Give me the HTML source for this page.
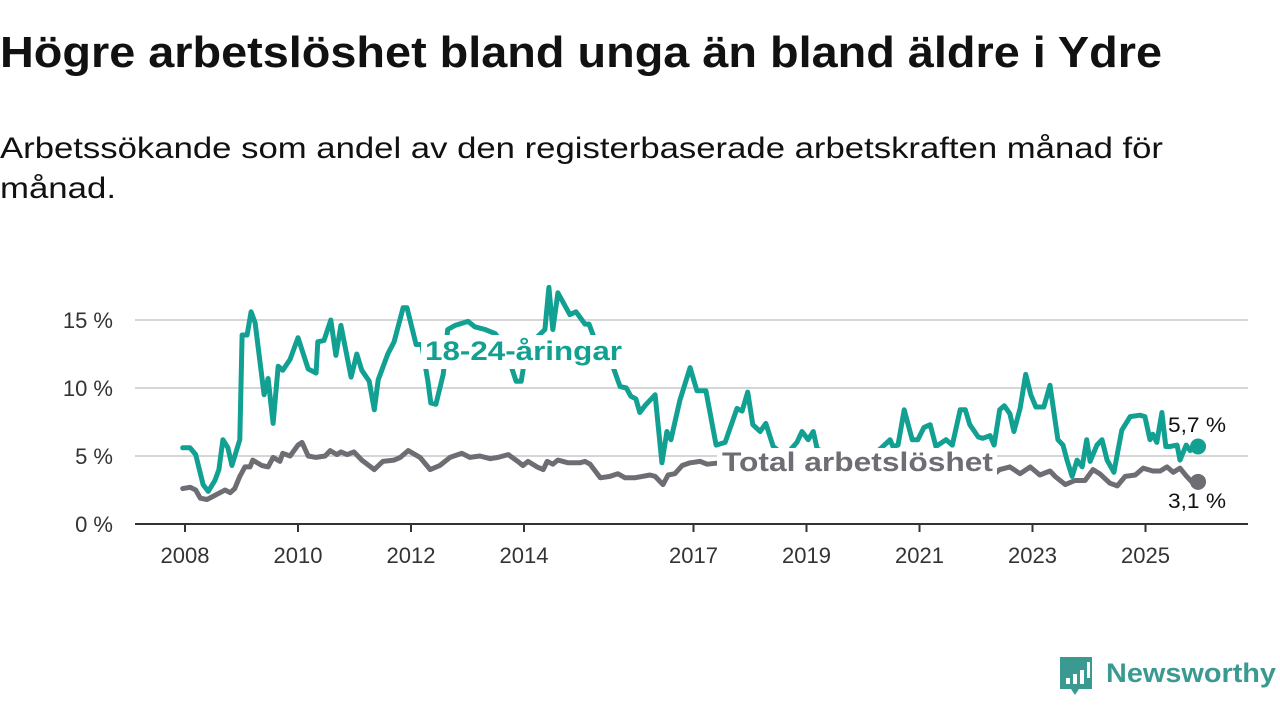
<!DOCTYPE html>
<html><head><meta charset="utf-8"><style>
html,body{margin:0;padding:0;background:#fff;}
svg{display:block;font-family:"Liberation Sans","DejaVu Sans",sans-serif;}
</style></head><body>
<svg id="chart" width="1280" height="720" viewBox="0 0 1280 720">
<text x="0" y="67" font-size="44" font-weight="bold" fill="#111" textLength="1162" lengthAdjust="spacingAndGlyphs">Högre arbetslöshet bland unga än bland äldre i Ydre</text>
<text x="0" y="158" font-size="30" fill="#111" textLength="1163" lengthAdjust="spacingAndGlyphs">Arbetssökande som andel av den registerbaserade arbetskraften månad för</text>
<text x="0" y="198" font-size="30" fill="#111" textLength="116" lengthAdjust="spacingAndGlyphs">månad.</text>
<g id="grid"></g>
<g id="yaxis"></g>
<g id="xaxis"></g>
<g id="series"></g>
<g id="labels"></g>
<g>
<path d="M1060 657 h32 v32 h-13 l-4 6 l-4 -6 h-11 z" fill="#3a9a92"/>
<rect x="1066" y="678" width="4" height="6" fill="#fff"/><rect x="1073" y="674" width="4" height="10" fill="#fff"/><rect x="1080" y="670" width="4" height="14" fill="#fff"/><rect x="1087" y="662" width="3" height="16" fill="#fff"/>
<text x="1106" y="682" font-size="27" font-weight="bold" fill="#3a9a92" textLength="170" lengthAdjust="spacingAndGlyphs">Newsworthy</text>
</g>
</svg>
<script>
const yTicks=[0,5,10,15];
const yTickLabels=["0 %","5 %","10 %","15 %"];
const xTicks=[2008,2010,2012,2014,2017,2019,2021,2023,2025];
const youthDates=[2007.96,2008.09,2008.19,2008.32,2008.41,2008.53,2008.60,2008.67,2008.76,2008.83,2008.97,2009.01,2009.10,2009.17,2009.24,2009.40,2009.47,2009.56,2009.65,2009.73,2009.86,2010.00,2010.18,2010.32,2010.35,2010.46,2010.58,2010.67,2010.76,2010.94,2011.04,2011.13,2011.26,2011.35,2011.42,2011.59,2011.70,2011.86,2011.93,2012.09,2012.19,2012.30,2012.35,2012.44,2012.57,2012.65,2012.78,2013.01,2013.13,2013.31,2013.49,2013.66,2013.86,2013.95,2014.05,2014.37,2014.44,2014.51,2014.60,2014.81,2014.92,2015.08,2015.15,2015.35,2015.58,2015.70,2015.81,2015.89,2015.98,2016.05,2016.14,2016.32,2016.44,2016.53,2016.60,2016.76,2016.94,2017.06,2017.22,2017.40,2017.56,2017.77,2017.86,2017.96,2018.05,2018.18,2018.28,2018.41,2018.62,2018.83,2018.92,2019.03,2019.12,2019.19,2019.42,2019.77,2020.12,2020.30,2020.48,2020.53,2020.62,2020.73,2020.87,2020.97,2021.08,2021.19,2021.29,2021.47,2021.58,2021.72,2021.81,2021.89,2022.04,2022.12,2022.25,2022.32,2022.42,2022.50,2022.60,2022.67,2022.78,2022.88,2022.97,2023.06,2023.20,2023.31,2023.45,2023.54,2023.61,2023.70,2023.79,2023.88,2023.96,2024.02,2024.14,2024.23,2024.32,2024.44,2024.58,2024.73,2024.90,2024.99,2025.08,2025.13,2025.20,2025.29,2025.36,2025.43,2025.56,2025.61,2025.72,2025.79,2025.86,2025.93];
const youthValues=[5.6,5.6,5.1,2.9,2.4,3.2,4.0,6.2,5.6,4.3,6.2,13.9,13.9,15.6,14.8,9.5,10.7,7.4,11.6,11.3,12.1,13.7,11.4,11.1,13.4,13.5,15.0,12.4,14.6,10.8,12.5,11.3,10.5,8.4,10.6,12.5,13.4,15.9,15.9,13.2,13.2,10.5,8.9,8.8,11.0,14.3,14.6,14.9,14.5,14.3,14.0,13.0,10.5,10.5,13.0,14.3,17.4,14.3,17.0,15.4,15.6,14.7,14.7,12.5,11.5,10.1,10.0,9.4,9.2,8.2,8.7,9.5,4.5,6.8,6.2,9.1,11.5,9.8,9.8,5.8,6.0,8.5,8.3,9.7,7.3,6.8,7.4,5.7,5.0,6.0,6.8,6.2,6.8,5.5,5.2,4.5,5.0,5.5,6.2,5.7,5.8,8.4,6.2,6.2,7.1,7.3,5.7,6.2,5.8,8.4,8.4,7.3,6.4,6.3,6.5,5.8,8.4,8.7,8.1,6.8,8.5,11.0,9.5,8.6,8.6,10.2,6.2,5.8,4.7,3.5,4.7,4.2,6.2,4.6,5.8,6.2,4.7,3.8,6.9,7.9,8.0,7.9,6.2,6.6,6.0,8.2,5.7,5.7,5.8,4.7,5.8,5.4,5.8,5.7];
const totalDates=[2007.96,2008.09,2008.19,2008.27,2008.39,2008.53,2008.62,2008.71,2008.80,2008.88,2008.97,2009.06,2009.15,2009.20,2009.36,2009.47,2009.56,2009.68,2009.73,2009.86,2010.00,2010.07,2010.18,2010.32,2010.48,2010.57,2010.69,2010.76,2010.87,2010.99,2011.13,2011.35,2011.50,2011.70,2011.81,2011.95,2012.16,2012.34,2012.51,2012.69,2012.90,2013.04,2013.22,2013.40,2013.54,2013.72,2013.89,2013.98,2014.07,2014.23,2014.34,2014.41,2014.51,2014.60,2014.78,2014.99,2015.08,2015.17,2015.35,2015.52,2015.66,2015.79,2015.96,2016.23,2016.32,2016.46,2016.55,2016.67,2016.80,2016.94,2017.12,2017.24,2017.47,2018.18,2018.88,2019.59,2020.12,2020.65,2021.36,2021.89,2022.30,2022.42,2022.60,2022.78,2022.96,2023.13,2023.31,2023.40,2023.58,2023.75,2023.93,2024.07,2024.19,2024.37,2024.50,2024.64,2024.82,2024.96,2025.13,2025.26,2025.38,2025.49,2025.61,2025.73,2025.82,2025.93];
const totalValues=[2.6,2.7,2.5,1.9,1.8,2.1,2.3,2.5,2.3,2.6,3.5,4.2,4.2,4.7,4.3,4.2,4.9,4.6,5.2,5.0,5.8,6.0,5.0,4.9,5.0,5.4,5.1,5.3,5.1,5.3,4.7,4.0,4.6,4.7,4.9,5.4,4.9,4.0,4.3,4.9,5.2,4.9,5.0,4.8,4.9,5.1,4.6,4.3,4.6,4.2,4.0,4.6,4.4,4.7,4.5,4.5,4.6,4.4,3.4,3.5,3.7,3.4,3.4,3.6,3.5,2.9,3.6,3.7,4.3,4.5,4.6,4.4,4.5,4.2,4.0,3.7,4.0,4.5,4.2,3.9,3.6,4.0,4.2,3.7,4.2,3.6,3.9,3.5,2.9,3.2,3.2,4.0,3.7,3.0,2.8,3.5,3.6,4.1,3.9,3.9,4.2,3.8,4.1,3.5,3.1,3.1];

const NS='http://www.w3.org/2000/svg';
const X0=135,X1=1248;
function xs(t){return 185+(t-2008)*56.5;}
function ys(v){return 524-v*13.6;}
function mk(tag,attrs,parent){const e=document.createElementNS(NS,tag);for(const k in attrs)e.setAttribute(k,attrs[k]);parent.appendChild(e);return e;}
const grid=document.getElementById('grid'),yax=document.getElementById('yaxis'),xax=document.getElementById('xaxis');
yTicks.forEach((v,i)=>{
  if(v>0){const l=mk('line',{x1:X0,x2:X1,y1:ys(v),y2:ys(v),stroke:'#d6d6d6','stroke-width':2},grid);
  
  }
  const t=mk('text',{x:113,y:ys(v)+8,'font-size':22,fill:'#333','text-anchor':'end'},yax);
  t.textContent=yTickLabels[i];
  
  
});
const base=mk('line',{x1:X0,x2:X1,y1:524,y2:524,stroke:'#333','stroke-width':2},xax);


xTicks.forEach(y=>{
  const tk=mk('line',{x1:xs(y),x2:xs(y),y1:524,y2:532,stroke:'#333','stroke-width':2},xax);
  
  
  const t=mk('text',{x:xs(y),y:563,'font-size':22,fill:'#333','text-anchor':'middle'},xax);
  t.textContent=String(y);
  
  
});
const ser=document.getElementById('series');
function line(d,v,color,name){
  const pts=d.map((t,i)=>xs(t).toFixed(1)+','+ys(v[i]).toFixed(1)).join(' ');
  const p=mk('polyline',{points:pts,fill:'none',stroke:color,'stroke-width':5,'stroke-linejoin':'round','stroke-linecap':'round'},ser);
  
  
  const c=mk('circle',{cx:xs(d[d.length-1]),cy:ys(v[v.length-1]),r:8,fill:color},ser);
  
  
}
line(totalDates,totalValues,'#6e6d73','total-line');
line(youthDates,youthValues,'#12a093','youth-line');
const lab=document.getElementById('labels');
const m1=mk('rect',{x:421,y:335,width:204,height:34,fill:'#fff'},lab);


const m2=mk('rect',{x:717,y:448,width:280,height:34,fill:'#fff'},lab);


function label(x,y,txt,color,size,w,name,bold){
  const t=mk('text',{x:x,y:y,'font-size':size,'font-weight':bold?'bold':'normal',fill:color,stroke:'#fff','stroke-width':bold?6:0,'paint-order':'stroke','stroke-linejoin':'round',textLength:w,lengthAdjust:'spacingAndGlyphs'},lab);
  t.textContent=txt;
  
  
}
label(425,360,'18-24-åringar','#12a093',27,197,'youth-series-label',true);
label(722,471,'Total arbetslöshet','#6e6d73',27,271,'total-series-label',true);
label(1168,432,'5,7 %','#111',21,58,'youth-end-value',false);
label(1168,508,'3,1 %','#111',21,58,'total-end-value',false);
</script>
</body></html>
